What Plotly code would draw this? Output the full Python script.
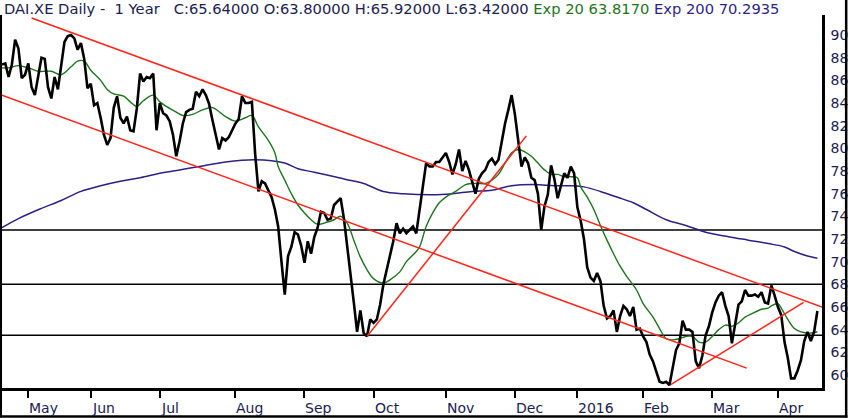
import plotly.graph_objects as go

# ======================================================
# DADOS - eixo x = pregão nº
# ======================================================
close = [
    87.4, 87.5, 86.3, 87.4, 89.6, 88.8, 86.2, 86.5, 87.5, 85.4,
    84.7, 86.2, 88.0, 87.9, 85.4, 84.4, 86.3, 85.2, 87.4, 89.4,
    89.9, 90.0, 89.7, 88.7, 89.3, 87.9, 85.3, 85.7, 83.8, 84.0,
    82.7, 81.2, 80.3, 80.9, 83.6, 84.6, 82.7, 82.2, 82.8, 81.6,
    81.5, 83.5, 86.6, 85.9, 86.3, 86.2, 86.6, 81.6, 84.0, 83.1,
    82.9, 82.4, 81.2, 79.3, 80.6, 82.2, 83.2, 83.4, 83.5, 85.0,
    84.6, 85.2, 84.7, 83.9, 82.5, 81.2, 79.9, 80.9, 80.7, 81.0,
    81.6, 82.2, 82.6, 84.6, 84.0, 84.0, 84.1, 79.5, 76.2, 77.1,
    76.9, 76.3, 75.7, 74.6, 73.1, 70.0, 67.1, 70.5, 71.3, 72.6,
    72.4, 71.4, 69.9, 71.8, 70.7, 72.2, 73.0, 74.4, 74.3, 73.7,
    73.8, 75.0, 75.3, 75.6, 73.8, 71.5, 68.7, 66.4, 63.8, 65.7,
    63.7, 63.4, 64.9, 64.6, 64.9, 66.2, 68.0, 69.3, 70.3, 71.8,
    73.4, 72.5, 72.9, 72.5, 72.8, 73.1, 72.5, 74.7, 76.6, 78.7,
    78.4, 78.4, 78.8, 78.8, 79.2, 79.6, 78.8, 77.7, 78.6, 79.9,
    78.0, 78.9, 78.1, 77.1, 76.0, 77.3, 77.8, 78.1, 78.8, 79.1,
    78.6, 79.0, 80.8, 82.2, 83.4, 84.7, 83.0, 80.9, 78.4, 79.2,
    78.7, 77.4, 77.2, 76.0, 72.8, 74.9, 75.9, 78.5, 77.3, 75.6,
    76.8, 77.8, 77.4, 78.4, 77.8, 74.8, 73.6, 72.0, 69.5, 68.6,
    68.3, 69.0, 68.3, 66.1, 65.0, 65.2, 65.7, 63.8, 65.2, 66.1,
    65.8, 65.2, 66.0, 64.0, 64.1, 63.4, 62.9, 61.8, 61.2, 60.3,
    59.4, 59.3, 59.4, 59.1, 60.8, 62.2, 62.8, 64.8, 64.0, 64.0,
    63.8, 61.2, 60.6, 61.7, 63.5, 64.3, 65.5, 66.4, 67.0, 67.3,
    66.1, 65.2, 62.8, 64.6, 66.2, 66.5, 67.5, 67.0, 67.0, 67.1,
    66.9, 67.3, 66.4, 66.3, 67.9, 67.0, 66.0, 65.3, 62.9, 61.5,
    59.7, 59.7, 60.4, 61.3, 63.0, 63.8, 63.0, 63.8, 65.64,
]
sessions = list(range(len(close)))

ema20_x = [0, 2, 5, 8, 11, 13, 15, 18, 21, 23, 25, 27, 30, 32, 34, 37, 39, 41, 43, 46,
           48, 50, 53, 55, 58, 61, 64, 68, 71, 74, 76, 78, 81, 83, 84, 86, 88, 90, 92, 94,
           96, 99, 101, 103, 105, 107, 109, 111, 113, 116, 118, 121, 123, 126, 127, 129, 131,
           133, 135, 138, 141, 143, 145, 147, 149, 151, 153, 155, 157, 159, 161, 163, 165,
           167, 169, 171, 173, 175, 176, 178, 180, 182, 184, 186, 188, 190, 193, 195, 198,
           200, 202, 204, 206, 208, 210, 212, 214, 216, 218, 220, 222, 224, 226, 228, 231,
           233, 234, 236, 237, 239, 241, 243, 246, 248]
ema20_y = [87.1, 87.1, 87.3, 87.1, 86.8, 86.8, 86.8, 86.5, 87.2, 87.7, 87.7, 86.9, 86.0, 85.2,
           84.8, 84.6, 84.1, 83.7, 84.2, 84.7, 84.1, 83.7, 83.2, 82.9, 83.0, 83.4, 83.6, 82.8,
           82.4, 82.7, 82.9, 81.9, 80.7, 79.6, 78.4, 77.2, 76.0, 75.0, 74.3, 73.7, 73.3, 73.5,
           73.7, 74.0, 73.4, 71.9, 70.4, 69.3, 68.5, 68.1, 68.4, 69.1, 70.0, 70.9, 71.3, 73.1,
           74.3, 75.2, 75.7, 76.2, 76.8, 76.9, 76.9, 76.9, 77.2, 77.7, 78.7, 79.6, 79.9, 79.7,
           79.3, 78.7, 78.1, 77.7, 77.7, 77.5, 77.5, 77.4, 76.6, 75.7, 74.6, 73.2, 71.9, 70.7,
           69.6, 68.7, 67.5, 66.3, 65.1, 64.1, 63.2, 63.1, 63.2, 63.4, 63.4, 62.9, 62.9, 63.4,
           64.0, 64.4, 64.3, 64.6, 65.1, 65.4, 65.8, 65.9, 66.1, 66.3, 65.9, 64.9, 64.1, 63.8,
           63.7, 63.817]

ema200_x = [0, 5, 12, 18, 24, 30, 36, 42, 48, 54, 60, 68, 77, 86, 90, 95, 104, 110, 116, 122,
            131, 137, 143, 149, 155, 162, 168, 174, 177, 182, 187, 192, 196, 202, 208, 214,
            221, 227, 233, 238, 241, 245, 248]
ema200_y = [73.0, 73.8, 74.7, 75.4, 76.2, 76.7, 77.1, 77.4, 77.8, 78.1, 78.4, 78.8, 79.0, 78.7,
            78.2, 77.9, 77.3, 76.9, 76.2, 76.0, 75.9, 76.0, 76.2, 76.3, 76.7, 76.8, 76.7, 76.7,
            76.6, 76.2, 75.7, 75.2, 74.6, 73.7, 73.2, 72.6, 72.2, 71.9, 71.6, 71.3, 70.9, 70.5,
            70.2935]

# linhas de tendência (início, fim)
trend_x = [[9, 249.4], [0, 226.5], [111, 159.5], [203.4, 243.8]]
trend_y = [[91.5, 66.0], [84.7, 60.6], [63.4, 81.1], [59.15, 66.4]]

# suportes / resistências horizontais
levels = [72.8, 68.0, 63.5]

month_pos = [8, 27, 48, 71, 92, 113, 135, 156, 175, 195, 216, 236]
month_txt = ["May", "Jun", "Jul", "Aug", "Sep", "Oct", "Nov", "Dec", "2016", "Feb", "Mar", "Apr"]
y_ticks = list(range(60, 91, 2))

NAVY_TXT = "#1b2050"
GREEN = "#1d741d"
PURPLE = "#2e1f86"
RED = "#ff2418"
FONT = "DejaVu Sans"

# ======================================================
# FIGURA
# ======================================================
fig = go.Figure()

fig.add_trace(go.Scatter(x=ema200_x, y=ema200_y, mode="lines", line_shape="spline",
                         line=dict(color=PURPLE, width=1.5), hoverinfo="skip"))
fig.add_trace(go.Scatter(x=ema20_x, y=ema20_y, mode="lines", line_shape="spline",
                         line=dict(color=GREEN, width=1.4), hoverinfo="skip"))
fig.add_trace(go.Scatter(x=sessions, y=close, mode="lines",
                         line=dict(color="black", width=2.6), hoverinfo="skip"))

for tx, ty in zip(trend_x, trend_y):
    fig.add_trace(go.Scatter(x=tx, y=ty, mode="lines",
                             line=dict(color=RED, width=1.5), hoverinfo="skip"))

for lv in levels:
    fig.add_shape(type="line", xref="paper", x0=0, x1=1, yref="y", y0=lv, y1=lv,
                  line=dict(color="black", width=1.5), layer="below")

# moldura da imagem (esquerda, base, direita)
fig.add_shape(type="line", xref="paper", yref="paper", x0=-0.0015, x1=-0.0015, y0=1, y1=-0.08,
              line=dict(color="black", width=2.5))
fig.add_shape(type="line", xref="paper", yref="paper", x0=-0.003, x1=1.031, y0=-0.0765, y1=-0.0765,
              line=dict(color="black", width=2.5))
fig.add_shape(type="line", xref="paper", yref="paper", x0=1.0295, x1=1.0295, y0=1.04, y1=-0.08,
              line=dict(color="black", width=2.5))

# rótulos dos meses (alinhados à esquerda do tick)
for pos, txt in zip(month_pos, month_txt):
    fig.add_annotation(x=pos, xref="x", y=-0.054, yref="paper", text=txt, showarrow=False,
                       xanchor="left", yanchor="middle", xshift=-1,
                       font=dict(family=FONT, size=14, color=NAVY_TXT))

title = (
    f"<span style='color:{NAVY_TXT}'>DAI.XE Daily -&nbsp; 1 Year&nbsp;&nbsp; C:65.64000 O:63.80000 "
    f"H:65.92000 L:63.42000</span> <span style='color:{GREEN}'>Exp 20 63.8170</span> "
    f"<span style='color:{PURPLE}'>Exp 200 70.2935</span>"
)
fig.add_annotation(x=0, xref="paper", y=1.017, yref="paper", text=title, showarrow=False,
                   xanchor="left", yanchor="middle", xshift=0,
                   font=dict(family=FONT, size=14.7, color=NAVY_TXT))

fig.update_layout(
    width=850, height=418,
    margin=dict(l=2, r=25, t=15, b=30),
    paper_bgcolor="white", plot_bgcolor="white",
    showlegend=False,
    xaxis=dict(
        range=[0, 249.4], tickmode="array", tickvals=month_pos, ticktext=[""] * len(month_pos),
        ticks="outside", ticklen=7, tickwidth=2, tickcolor="black",
        showline=True, linecolor="black", linewidth=2.5, showgrid=False, zeroline=False,
    ),
    yaxis=dict(
        side="right", range=[58.85, 91.77], tickmode="array", tickvals=y_ticks,
        ticks="", ticklabelstandoff=3, showline=True, linecolor="black", linewidth=2.5,
        showgrid=False, zeroline=False,
        tickfont=dict(family=FONT, size=14, color=NAVY_TXT),
    ),
)

# a página do navegador tem margem padrão de 8px no body
fig.write_html("out.html", config={"displayModeBar": False},
               post_script="document.body.style.margin='0';")
